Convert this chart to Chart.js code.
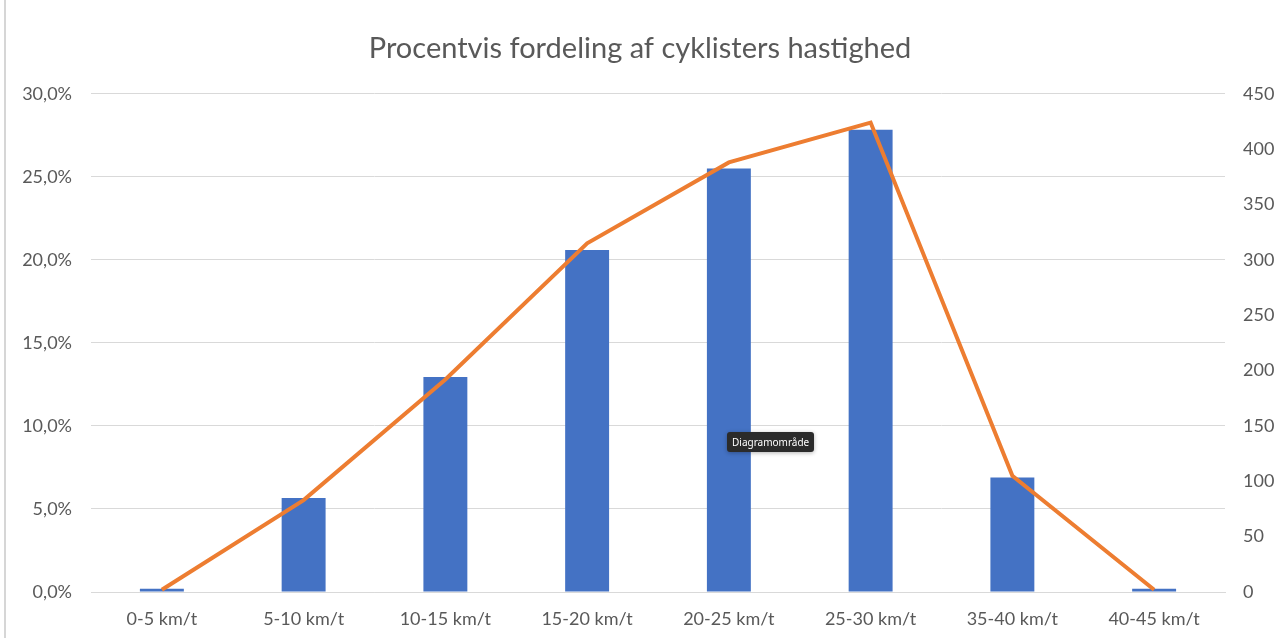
<!DOCTYPE html>
<html>
<head>
<meta charset="utf-8">
<script src="https://cdn.jsdelivr.net/npm/chart.js@4.4.1/dist/chart.umd.min.js"></script>
<style>
  html, body { margin: 0; padding: 0; background: #fff; }
  #wrap { position: relative; width: 1280px; height: 638px; }
  #kant { position: absolute; left: 4px; top: 0; width: 2px; height: 638px; background: #d6d6d6; }
  #tip {
    position: absolute; left: 727px; top: 432px;
    background: #2b2b2b; color: #fff; border-radius: 3px;
    font: 10px "Noto Sans", sans-serif; padding: 3px 5px;
    box-shadow: 0 1px 4px rgba(0,0,0,0.3);
  }
</style>
</head>
<body>
<div id="wrap">
  <canvas id="grafik" width="1280" height="638"></canvas>
  <div id="kant"></div>
  <div id="tip">Diagramområde</div>
</div>
<script>
const kategorier = ['0-5 km/t', '5-10 km/t', '10-15 km/t', '15-20 km/t', '20-25 km/t', '25-30 km/t', '35-40 km/t', '40-45 km/t'];
const procent = [0.2, 5.66, 12.95, 20.6, 25.5, 27.83, 6.9, 0.2];
const antal = [2, 83, 192, 315, 388, 424, 105, 2];

const tekstFarve = '#595959';
const gitterFarve = '#d9d9d9';
const skrift = 'Lato, "Noto Sans", sans-serif';

function formatProcent(v) {
  return v.toFixed(1).replace('.', ',') + '%';
}

const ctx = document.getElementById('grafik').getContext('2d');
new Chart(ctx, {
  data: {
    labels: kategorier,
    datasets: [
      {
        type: 'line',
        label: 'Antal',
        data: antal,
        yAxisID: 'yHoejre',
        borderColor: '#ED7D31',
        borderWidth: 4,
        pointRadius: 0,
        tension: 0,
        order: 0
      },
      {
        type: 'bar',
        label: 'Procent',
        data: procent,
        yAxisID: 'yVenstre',
        backgroundColor: '#4472C4',
        categoryPercentage: 1,
        barPercentage: 0.31,
        order: 1
      }
    ]
  },
  options: {
    responsive: false,
    animation: false,
    layout: { padding: { top: 0, right: 0, bottom: 0, left: 0 } },
    plugins: {
      legend: { display: false },
      tooltip: { enabled: false },
      title: {
        display: true,
        text: 'Procentvis fordeling af cyklisters hastighed',
        color: tekstFarve,
        font: { family: skrift, size: 29, weight: 'normal' },
        padding: { top: 31, bottom: 28 }
      }
    },
    scales: {
      x: {
        grid: { display: false, drawTicks: false },
        border: { color: gitterFarve, width: 1 },
        ticks: { color: tekstFarve, font: { family: skrift, size: 18 }, padding: 16, maxRotation: 0 },
        afterFit: s => { s.height = 46; }
      },
      yVenstre: {
        position: 'left',
        min: 0, max: 30,
        ticks: { stepSize: 5, color: tekstFarve, font: { family: skrift, size: 18 }, padding: 19, callback: v => formatProcent(v) },
        grid: { color: gitterFarve, drawTicks: false },
        border: { display: false },
        afterFit: s => { s.width = 91; }
      },
      yHoejre: {
        position: 'right',
        min: 0, max: 450,
        ticks: { stepSize: 50, color: tekstFarve, font: { family: skrift, size: 18 }, padding: 18 },
        grid: { display: false, drawTicks: false },
        border: { display: false },
        afterFit: s => { s.width = 55; }
      }
    }
  }
});
</script>
</body>
</html>
